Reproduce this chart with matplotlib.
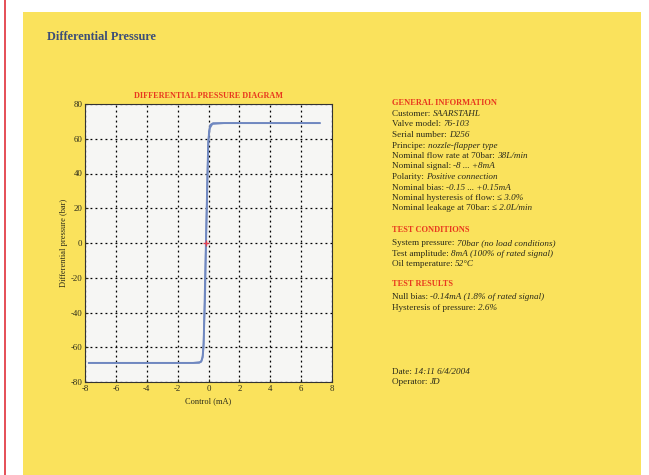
import matplotlib
matplotlib.use("Agg")
import matplotlib.pyplot as plt
from matplotlib.patches import Rectangle
from matplotlib.lines import Line2D

plt.rcParams["axes.unicode_minus"] = False

W, H = 649, 475
YELLOW = "#FAE25C"
RED = "#E8381E"
INK = "#2A2A1A"
CURVE = "#7088C0"
SERIF = "Liberation Serif"

# hysteresis loop
up_ma = [-7.75, -3.0, -1.0, -0.5, -0.38, -0.32, -0.27, -0.22, -0.17, -0.12, -0.07, -0.02, 0.03, 0.12, 0.3, 1.0, 7.2]
up_bar = [-69, -69, -69, -68.5, -66, -60, -45, -30, -5, 15, 35, 55, 64, 68, 69, 69, 69]
down_ma = [7.2, 1.0, 0.25, 0.08, -0.02, -0.07, -0.12, -0.17, -0.22, -0.27, -0.32, -0.38, -0.45, -0.6, -1.0, -7.75]
down_bar = [69, 69, 68.5, 66, 58, 40, 20, 0, -20, -40, -58, -65, -68, -69, -69, -69]
null_point = (-0.15, 0.0)

x_ticks = list(range(-8, 9, 2))
y_ticks = list(range(-80, 81, 20))

general_info = [
    ("Customer: ", "SAARSTAHL"),
    ("Valve model: ", "76-103"),
    ("Serial number: ", "D256"),
    ("Principe: ", "nozzle-flapper type"),
    ("Nominal flow rate at 70bar: ", "38L/min"),
    ("Nominal signal: ", "-8 ... +8mA"),
    ("Polarity: ", "Positive connection"),
    ("Nominal bias: ", "-0.15 ... +0.15mA"),
    ("Nominal hysteresis of flow: ", "\u2264 3.0%"),
    ("Nominal leakage at 70bar: ", "\u2264 2.0L/min"),
]
test_conditions = [
    ("System pressure: ", "70bar (no load conditions)"),
    ("Test amplitude: ", "8mA (100% of rated signal)"),
    ("Oil temperature: ", "52\u00b0C"),
]
test_results = [
    ("Null bias: ", "-0.14mA (1.8% of rated signal)"),
    ("Hysteresis of pressure: ", "2.6%"),
]
footer = [
    ("Date: ", "14:11 6/4/2004"),
    ("Operator: ", "JD"),
]


def fx(px):
    return px / W


def fy(py):
    return 1 - py / H


fig = plt.figure(figsize=(W / 100, H / 100), dpi=100)
fig.patch.set_facecolor("white")
fig.add_artist(Rectangle((fx(23), 0), fx(641) - fx(23), fy(12), transform=fig.transFigure,
                         facecolor=YELLOW, edgecolor="none", zorder=-2))
fig.add_artist(Line2D([fx(5), fx(5)], [0, 1], transform=fig.transFigure, color="#E0303A", lw=1.2))

fig.text(fx(47), fy(37), "Differential Pressure", fontfamily=SERIF, fontweight="bold",
         fontsize=8.8, color="#3C4E78", va="center", ha="left")

ax = fig.add_axes([fx(85), fy(382), fx(332) - fx(85), fy(104) - fy(382)])
ax.set_facecolor("#F6F6F4")
ax.plot(up_ma, up_bar, color=CURVE, lw=1.3)
ax.plot(down_ma, down_bar, color=CURVE, lw=1.3)
ax.plot(*null_point, marker="+", color="#E04050", ms=4, mew=1)
ax.set_xlim(-8, 8)
ax.set_ylim(-80, 80)
ax.set_xticks(x_ticks)
ax.set_yticks(y_ticks)
ax.grid(True, color="black", linestyle=(0, (1.5, 2.5)), lw=0.9)
ax.tick_params(length=2, direction="in", labelsize=6.3, pad=2, colors=INK)
for lab in ax.get_xticklabels() + ax.get_yticklabels():
    lab.set_fontfamily(SERIF)
for sp in ax.spines.values():
    sp.set_color("#333333")
    sp.set_linewidth(0.8)
ax.set_title("DIFFERENTIAL PRESSURE DIAGRAM", fontfamily=SERIF, fontweight="bold",
             fontsize=5.9, color=RED, pad=4)
ax.set_xlabel("Control (mA)", fontfamily=SERIF, fontsize=6, color=INK, labelpad=3)
ax.set_ylabel("Differential pressure (bar)", fontfamily=SERIF, fontsize=6, color=INK, labelpad=2)


def heading(py, text):
    fig.text(fx(392), fy(py), text, fontfamily=SERIF, fontweight="bold", fontsize=6,
             color=RED, va="center", ha="left")


def info_lines(py0, rows, step=10.5):
    for i, (label, value) in enumerate(rows):
        t = fig.text(fx(392), fy(py0 + i * step), label, fontfamily=SERIF, fontsize=6.6,
                     color=INK, va="bottom", ha="left")
        ax.annotate(value, xy=(1, 0), xycoords=t, fontfamily=SERIF, fontstyle="italic",
                    fontsize=6.6, color=INK, va="bottom", ha="left", annotation_clip=False)


heading(103, "GENERAL INFORMATION")
info_lines(118, general_info)
heading(230, "TEST CONDITIONS")
info_lines(247, test_conditions)
heading(284, "TEST RESULTS")
info_lines(301, test_results)
info_lines(376, footer)

fig.savefig("out.png", dpi=100, facecolor=fig.get_facecolor())
